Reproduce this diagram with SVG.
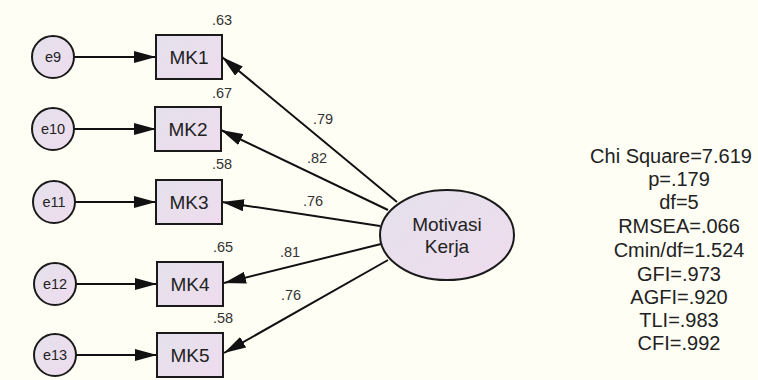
<svg xmlns="http://www.w3.org/2000/svg" width="758" height="380" viewBox="0 0 758 380">
<defs>
<linearGradient id="fillG" x1="0" y1="0" x2="1" y2="1">
<stop offset="0" stop-color="#e4e1ec"/>
<stop offset="1" stop-color="#efdcee"/>
</linearGradient>
<marker id="arr" viewBox="0 0 22 12" refX="22" refY="6" markerWidth="22" markerHeight="12" markerUnits="userSpaceOnUse" orient="auto">
<path d="M0,0 L22,6 L0,12 Z" fill="#111"/>
</marker>
<style>
.shape{fill:url(#fillG);stroke:#1a1a1a;stroke-width:2}
.lbl{font-family:"Liberation Sans",Arial,sans-serif;fill:#222}
.node{font-size:19px}
.err{font-size:14.5px}
.num{font-size:14.5px;fill:#333}
.stat{font-size:20px;text-anchor:middle}
.conn line{stroke:#111;stroke-width:2;marker-end:url(#arr)}
</style>
</defs>
<rect width="758" height="380" fill="#fffef5"/>
<g id="connectors" class="conn">
<line x1="74" y1="57" x2="156" y2="57"/>
<line x1="74" y1="129" x2="156" y2="129"/>
<line x1="75" y1="202" x2="156" y2="202"/>
<line x1="76" y1="284" x2="157" y2="284"/>
<line x1="76" y1="355" x2="157" y2="355"/>
<line x1="397" y1="202" x2="222" y2="57"/>
<line x1="388" y1="210" x2="221" y2="130"/>
<line x1="380" y1="226" x2="222" y2="202"/>
<line x1="381" y1="244" x2="224" y2="283"/>
<line x1="388" y1="260" x2="224" y2="353"/>
</g>
<g id="e9"><circle class="shape" cx="53" cy="57" r="21"/><text class="lbl err" x="53" y="62" text-anchor="middle">e9</text></g>
<g id="e10"><circle class="shape" cx="53" cy="129" r="21"/><text class="lbl err" x="53" y="134" text-anchor="middle">e10</text></g>
<g id="e11"><circle class="shape" cx="54" cy="202" r="21"/><text class="lbl err" x="54" y="207" text-anchor="middle">e11</text></g>
<g id="e12"><circle class="shape" cx="55" cy="284" r="21"/><text class="lbl err" x="55" y="289" text-anchor="middle">e12</text></g>
<g id="e13"><circle class="shape" cx="55" cy="355" r="21"/><text class="lbl err" x="55" y="360" text-anchor="middle">e13</text></g>
<g id="MK1"><rect class="shape" x="156" y="35" width="66" height="44"/><text class="lbl node" x="189" y="64" text-anchor="middle">MK1</text><text class="lbl num" x="212" y="25">.63</text></g>
<g id="MK2"><rect class="shape" x="155" y="107" width="66" height="44"/><text class="lbl node" x="188" y="136" text-anchor="middle">MK2</text><text class="lbl num" x="212" y="98">.67</text></g>
<g id="MK3"><rect class="shape" x="156" y="180" width="66" height="44"/><text class="lbl node" x="189" y="209" text-anchor="middle">MK3</text><text class="lbl num" x="212" y="169">.58</text></g>
<g id="MK4"><rect class="shape" x="157" y="262" width="66" height="44"/><text class="lbl node" x="190" y="291" text-anchor="middle">MK4</text><text class="lbl num" x="213" y="252">.65</text></g>
<g id="MK5"><rect class="shape" x="157" y="333" width="66" height="44"/><text class="lbl node" x="190" y="362" text-anchor="middle">MK5</text><text class="lbl num" x="213" y="323">.58</text></g>
<g id="MotivasiKerja"><ellipse class="shape" cx="447" cy="235" rx="67" ry="45"/><text class="lbl node" x="447" y="231" text-anchor="middle">Motivasi</text><text class="lbl node" x="447" y="253" text-anchor="middle">Kerja</text></g>
<g id="path-labels">
<text class="lbl num" x="313" y="124">.79</text>
<text class="lbl num" x="307" y="163">.82</text>
<text class="lbl num" x="303" y="206">.76</text>
<text class="lbl num" x="280" y="257">.81</text>
<text class="lbl num" x="281" y="300">.76</text>
</g>
<g id="fit-stats">
<text class="lbl stat" x="671" y="163">Chi Square=7.619</text>
<text class="lbl stat" x="679" y="186">p=.179</text>
<text class="lbl stat" x="679" y="209">df=5</text>
<text class="lbl stat" x="679" y="233">RMSEA=.066</text>
<text class="lbl stat" x="679" y="257">Cmin/df=1.524</text>
<text class="lbl stat" x="679" y="281">GFI=.973</text>
<text class="lbl stat" x="679" y="304">AGFI=.920</text>
<text class="lbl stat" x="679" y="327">TLI=.983</text>
<text class="lbl stat" x="679" y="350">CFI=.992</text>
</g>
</svg>
